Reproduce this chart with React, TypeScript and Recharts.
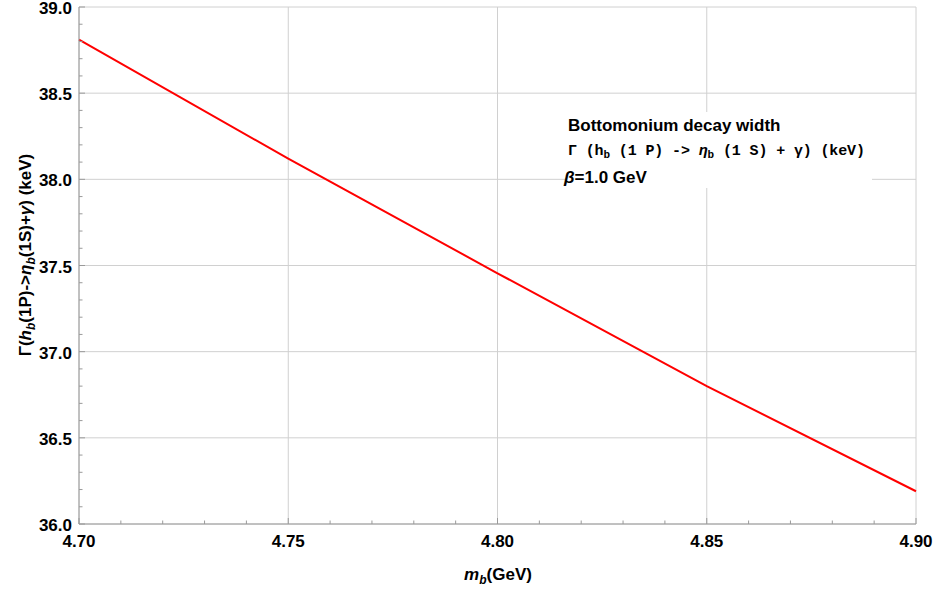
import React from "react";
import { LineChart, Line, XAxis, YAxis, CartesianGrid } from "recharts";

// ---- data ----
const massValues = [4.7, 4.75, 4.8, 4.85, 4.9];
const widthValues = [38.81, 38.12, 37.455, 36.8, 36.19];

const xTicks = [
  4.7, 4.71, 4.72, 4.73, 4.74, 4.75, 4.76, 4.77, 4.78, 4.79, 4.8, 4.81, 4.82,
  4.83, 4.84, 4.85, 4.86, 4.87, 4.88, 4.89, 4.9,
];
const xMajor = [4.7, 4.75, 4.8, 4.85, 4.9];
const yTicks = [
  36.0, 36.1, 36.2, 36.3, 36.4, 36.5, 36.6, 36.7, 36.8, 36.9, 37.0, 37.1, 37.2,
  37.3, 37.4, 37.5, 37.6, 37.7, 37.8, 37.9, 38.0, 38.1, 38.2, 38.3, 38.4, 38.5,
  38.6, 38.7, 38.8, 38.9, 39.0,
];
const yMajor = [36.0, 36.5, 37.0, 37.5, 38.0, 38.5, 39.0];

const rows = massValues.map((m, i) => ({ mb: m, w: widthValues[i] }));

const FRAME = "#9a9a9a";
const GRID = "#d0d0d0";
const SANS = "'Liberation Sans', Arial, sans-serif";
const MONO = "'Liberation Mono', 'Courier New', monospace";

const isIn = (arr: number[], v: number) => arr.some((a) => Math.abs(a - v) < 1e-6);

const BottomTick = (props: any) => {
  const { x, y, payload } = props;
  const v = payload.value as number;
  const major = isIn(xMajor, v);
  return (
    <g>
      <line x1={x} y1={y} x2={x} y2={y - (major ? 6 : 3.5)} stroke={FRAME} />
      {major && (
        <text x={x} y={y + 23} textAnchor="middle" fontFamily={SANS} fontWeight="bold" fontSize={17} fill="#000">
          {v.toFixed(2)}
        </text>
      )}
    </g>
  );
};

const TopTick = (props: any) => {
  const { x, y, payload } = props;
  const major = isIn(xMajor, payload.value);
  return <line x1={x} y1={y} x2={x} y2={y + (major ? 6 : 3.5)} stroke={FRAME} />;
};

const LeftTick = (props: any) => {
  const { x, y, payload } = props;
  const v = payload.value as number;
  const major = isIn(yMajor, v);
  return (
    <g>
      <line x1={x} y1={y} x2={x + (major ? 6 : 3.5)} y2={y} stroke={FRAME} />
      {major && (
        <text x={x - 7} y={y + 7} textAnchor="end" fontFamily={SANS} fontWeight="bold" fontSize={17} fill="#000">
          {v.toFixed(1)}
        </text>
      )}
    </g>
  );
};

const RightTick = (props: any) => {
  const { x, y, payload } = props;
  const major = isIn(yMajor, payload.value);
  return <line x1={x} y1={y} x2={x - (major ? 6 : 3.5)} y2={y} stroke={FRAME} />;
};

export default function App() {
  return (
    <div style={{ position: "absolute", left: 0, top: 0, width: 935, height: 591, background: "#fff" }}>
      <LineChart width={935} height={591} data={rows} margin={{ top: 7, right: 19, bottom: 7, left: 0 }}>
        <CartesianGrid
          stroke={GRID}
          strokeWidth={1}
          horizontalValues={yMajor}
          verticalValues={xMajor}
        />
        <XAxis
          dataKey="mb"
          type="number"
          domain={[4.7, 4.9]}
          ticks={xTicks}
          interval={0}
          height={60}
          tickSize={0}
          tickMargin={0}
          tickLine={false}
          axisLine={{ stroke: FRAME }}
          tick={<BottomTick />}
        />
        <XAxis
          xAxisId="top"
          orientation="top"
          type="number"
          domain={[4.7, 4.9]}
          ticks={xTicks}
          interval={0}
          height={0}
          tickSize={0}
          tickMargin={0}
          tickLine={false}
          axisLine={{ stroke: FRAME }}
          tick={<TopTick />}
        />
        <YAxis
          type="number"
          domain={[36, 39]}
          ticks={yTicks}
          interval={0}
          width={79}
          tickSize={0}
          tickMargin={0}
          tickLine={false}
          axisLine={{ stroke: FRAME }}
          tick={<LeftTick />}
        />
        <YAxis
          yAxisId="right"
          orientation="right"
          type="number"
          domain={[36, 39]}
          ticks={yTicks}
          interval={0}
          width={0}
          tickSize={0}
          tickMargin={0}
          tickLine={false}
          axisLine={{ stroke: FRAME }}
          tick={<RightTick />}
        />
        <Line
          type="linear"
          dataKey="w"
          stroke="#ff0000"
          strokeWidth={2}
          dot={false}
          isAnimationActive={false}
        />
      </LineChart>
      <svg
        width={935}
        height={591}
        style={{ position: "absolute", left: 0, top: 0, pointerEvents: "none" }}
      >
        <rect x={566} y={112} width={306} height={76} fill="#fff" />
        <text x={568} y={131} fontFamily={SANS} fontWeight="bold" fontSize={17} fill="#000">
          Bottomonium decay width
        </text>
        <text x={568} y={155} fontFamily={MONO} fontWeight="bold" fontSize={15} fill="#000" textLength={297} lengthAdjust="spacing">
          <tspan>Γ (h</tspan>
          <tspan fontSize={11} dy={3}>b</tspan>
          <tspan dy={-3}> (1 P) -&gt; </tspan>
          <tspan fontStyle="italic">η</tspan>
          <tspan fontSize={11} dy={3}>b</tspan>
          <tspan dy={-3}> (1 S) + </tspan>
          <tspan>γ</tspan>
          <tspan>) (keV)</tspan>
        </text>
        <text x={564} y={183} fontFamily={SANS} fontWeight="bold" fontSize={17} fill="#000">
          <tspan fontStyle="italic">β</tspan>
          <tspan>=1.0 GeV</tspan>
        </text>
        <text x={498} y={580} textAnchor="middle" fontFamily={SANS} fontWeight="bold" fontSize={17} fill="#000">
          <tspan fontStyle="italic">m</tspan>
          <tspan fontStyle="italic" fontSize={12} dy={4}>b</tspan>
          <tspan dy={-4}>(GeV)</tspan>
        </text>
        <text
          x={31}
          y={255}
          transform="rotate(-90 31 255)"
          textAnchor="middle"
          fontFamily={SANS}
          fontWeight="bold"
          fontSize={17}
          fill="#000"
        >
          <tspan>Γ(</tspan>
          <tspan fontStyle="italic">h</tspan>
          <tspan fontStyle="italic" fontSize={12} dy={4}>b</tspan>
          <tspan dy={-4}>(1P)-&gt;</tspan>
          <tspan fontStyle="italic">η</tspan>
          <tspan fontStyle="italic" fontSize={12} dy={4}>b</tspan>
          <tspan dy={-4}>(1S)+</tspan>
          <tspan fontStyle="italic">γ</tspan>
          <tspan>) (keV)</tspan>
        </text>
      </svg>
    </div>
  );
}
